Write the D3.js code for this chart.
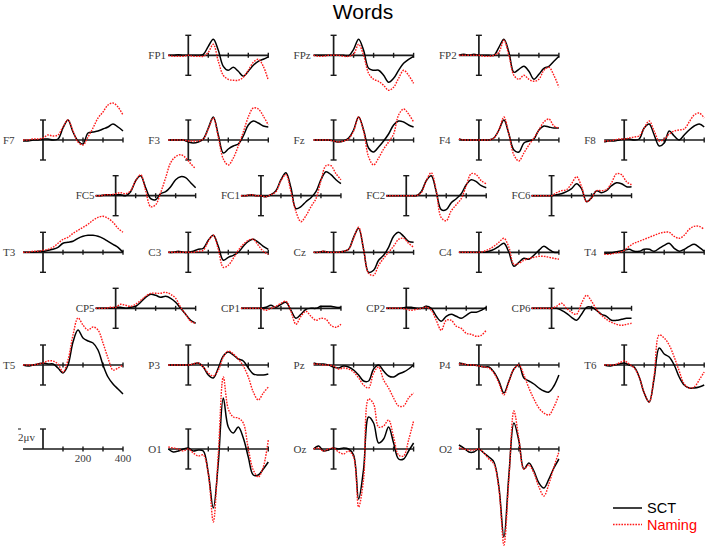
<!DOCTYPE html>
<html>
<head>
<meta charset="utf-8">
<script src="https://cdn.jsdelivr.net/npm/d3@7"></script>
<style>
  body { margin: 0; background: #fff; }
  svg { display: block; }
</style>
</head>
<body>
<svg id="chart"></svg>
<script>
// sample times (ms) shared by every trace
const times = [-100, -75, -50, -25, 0, 25, 50, 75, 100, 125, 150, 175, 200, 225, 250, 275, 300, 325, 350, 375, 400]

// amplitudes in microvolts, SCT (black) and Naming (red) per electrode
const sct_FP1 = [0, 0, 0.05, 0, 0, 0, 0, 0.1, 0.9, 1.6, 0.5, -1.1, -1.5, -1.2, -1.6, -2.1, -1.6, -1.0, -0.6, -0.4, -0.15]
const nam_FP1 = [0, -0.1, -0.1, -0.1, 0, -0.1, -0.1, -0.1, 0.3, 1.1, -0.6, -2.0, -2.4, -2.5, -2.5, -2.2, -1.5, -0.7, -0.4, -1.1, -2.5]
const sct_FPz = [0, 0, 0, 0, 0, 0, 0, -0.05, 0.6, 1.6, 0.5, -1.3, -1.5, -1.5, -2.0, -2.7, -2.3, -1.5, -0.8, -0.4, -0.1]
const nam_FPz = [0, -0.1, -0.1, 0, 0, 0, -0.1, -0.1, 0.1, 1.1, 0.0, -1.8, -2.4, -2.6, -3.0, -3.5, -3.2, -2.3, -1.5, -2.0, -2.8]
const sct_FP2 = [0, 0.1, 0, 0.1, 0, 0, 0, 0, 0.8, 1.6, 0.3, -1.7, -1.4, -1.1, -1.6, -2.4, -1.9, -1.3, -1.1, -0.6, -0.1]
const nam_FP2 = [0, 0, 0, 0, 0, -0.1, -0.1, 0, 0.3, 1.5, 0.0, -2.0, -2.4, -2.0, -2.4, -2.6, -2.4, -1.5, -1.2, -2.0, -3.2]

const sct_F7 = [-0.1, -0.1, 0, 0, 0.1, 0.1, 0, 0.1, 1.2, 2.0, 0.8, -0.1, -0.4, 0.7, 0.8, 0.9, 1.1, 1.3, 1.6, 1.3, 0.9]
const nam_F7 = [0, 0, 0.1, 0.1, 0.2, 0.5, 0.4, 0.5, 1.3, 2.0, 0.9, -0.2, -0.5, 0.3, 1.2, 2.2, 2.8, 3.5, 3.7, 3.3, 2.5]
const sct_F3 = [0, 0, 0, 0, -0.2, -0.3, -0.2, 0.1, 1.2, 2.3, 0.5, -1.3, -0.9, -0.6, -0.4, 0.4, 1.5, 1.9, 1.7, 1.4, 1.3]
const nam_F3 = [0, 0, 0, 0, -0.1, -0.1, -0.1, 0.1, 1.1, 2.2, 0.3, -1.9, -2.5, -1.8, -0.6, 0.8, 2.3, 3.2, 3.1, 2.4, 1.5]
const sct_Fz = [0, 0, 0, 0, -0.1, -0.2, -0.1, 0.2, 1.0, 2.3, 1.0, -0.8, -1.2, -0.7, -0.1, 0.6, 1.5, 1.9, 1.8, 1.5, 1.3]
const nam_Fz = [0, 0, 0, 0, -0.1, -0.2, -0.1, 0.1, 0.9, 2.3, 0.9, -1.7, -2.5, -1.8, -0.9, -0.2, 0.6, 2.5, 3.1, 2.6, 1.8]
const sct_F4 = [0.1, 0, 0, 0, 0, 0, 0, 0.2, 1.0, 2.0, 0.6, -1.0, -1.2, -0.3, -0.1, 0.1, 1.0, 1.4, 1.3, 1.2, 1.2]
const nam_F4 = [0.1, 0, 0, 0, 0, 0, 0, 0.2, 1.0, 2.3, 0.6, -1.5, -2.1, -1.3, -0.5, 0.2, 1.0, 1.8, 2.1, 1.4, 1.2]
const sct_F8 = [-0.2, -0.1, -0.1, 0, 0.1, 0.1, 0, 0.1, 1.2, 1.6, 0.5, -0.6, -0.3, 0.9, 0.4, 0, 0.5, 1.0, 1.4, 1.6, 1.3]
const nam_F8 = [-0.1, -0.1, 0, 0.1, 0.1, 0.2, 0.3, 0.4, 1.2, 1.9, 0.9, -0.1, 0.1, 0.6, 0.9, 1.0, 1.1, 1.8, 2.5, 2.7, 2.2]

const sct_FC5 = [0, 0, 0.1, 0.1, 0.1, 0.1, 0, 0.4, 1.5, 2.0, 0.8, -0.3, -0.4, 0.2, 0.4, 0.9, 1.6, 1.9, 1.8, 1.3, 0.8]
const nam_FC5 = [0, 0, 0.1, 0.1, 0.2, 0.3, 0.2, 0.5, 1.5, 2.1, 0.5, -1.1, -0.9, 0.3, 1.8, 3.3, 3.9, 4.1, 3.8, 3.2, 2.7]
const sct_FC1 = [0, 0, 0.1, 0, 0, -0.1, 0.1, 0.5, 1.6, 2.3, 0.8, -1.3, -1.1, -0.6, -0.2, 0.4, 1.6, 2.4, 2.1, 1.6, 1.2]
const nam_FC1 = [0, 0, 0.1, 0, 0, -0.1, 0.1, 0.4, 1.5, 2.1, 0.4, -1.6, -2.6, -2.0, -1.1, -0.3, 1.5, 3.0, 3.0, 2.2, 1.6]
const sct_FC2 = [0, 0, 0, 0, 0, 0, 0, 0.4, 1.5, 2.0, 0.4, -1.4, -1.4, -0.7, -0.3, 0.2, 1.1, 1.6, 1.4, 1.0, 0.8]
const nam_FC2 = [0, 0, 0, 0, 0, 0, 0, 0.3, 1.5, 2.3, 0.5, -2.2, -2.5, -1.5, -0.9, -0.3, 1.0, 2.2, 2.1, 1.5, 1.2]
const sct_FC6 = [0, 0, 0, 0, 0, 0.1, 0.2, 0.4, 0.7, 1.2, 0.7, -0.6, -0.2, 0.5, 0.3, 0.5, 1.0, 1.3, 1.2, 0.9, 0.9]
const nam_FC6 = [0, 0, 0, 0, 0, 0.3, 0.5, 0.6, 1.2, 1.9, 0.9, -0.6, -0.2, 0.5, 0.5, 0.6, 1.3, 2.2, 2.1, 1.4, 1.1]

const sct_T3 = [0, 0, 0, 0.1, 0.1, 0.2, 0.3, 0.5, 0.9, 1.0, 1.1, 1.4, 1.6, 1.7, 1.7, 1.6, 1.4, 1.1, 0.8, 0.5, 0]
const nam_T3 = [0, 0, 0.1, 0.1, 0.2, 0.3, 0.5, 0.9, 1.3, 1.5, 1.9, 2.2, 2.5, 2.8, 3.2, 3.5, 3.6, 3.4, 3.0, 2.4, 2.0]
const sct_C3 = [0, 0, 0.1, 0, 0, 0.1, 0.3, 0.4, 1.2, 1.7, 0.6, -0.8, -0.5, -0.3, 0, 0.6, 1.1, 1.3, 1.0, 0.6, 0.3]
const nam_C3 = [0, 0, 0, 0, 0, 0, 0.1, 0.2, 1.1, 1.7, 0.3, -1.5, -1.3, -0.6, 0.2, 0.8, 1.2, 1.3, 0.7, 0.1, -0.2]
const sct_Cz = [0, 0, 0.1, 0, 0, 0, 0.1, 0.3, 1.5, 2.4, 0.3, -2.0, -1.8, -0.8, -0.3, 0.5, 1.6, 2.0, 1.6, 1.1, 1.0]
const nam_Cz = [0, 0, 0.1, 0, 0, 0, 0.1, 0.3, 1.4, 2.5, 0.3, -2.1, -2.3, -1.3, -0.6, 0, 0.6, 1.3, 1.4, 0.9, 0.5]
const sct_C4 = [0, 0, 0, 0, 0, 0, 0.1, 0.3, 0.6, 0.9, 0, -1.4, -1.0, -0.6, -0.7, -0.3, 0.2, 0.6, 0.3, 0, 0]
const nam_C4 = [0, 0, 0, 0, 0, 0.1, 0.3, 0.6, 1.0, 1.4, 0.5, -1.2, -1.1, -0.8, -0.6, -0.5, -0.4, -0.4, -0.5, -0.6, -0.7]
const sct_T4 = [-0.1, -0.1, 0, 0.1, 0.2, 0.3, 0.1, 0.1, 0.3, 0.3, 0.1, 0.4, 0.7, 0.9, 0.4, 0.1, 0.3, 0.6, 0.8, 0.5, 0.1]
const nam_T4 = [-0.2, -0.2, -0.1, 0, 0.2, 0.6, 0.9, 1.1, 1.3, 1.5, 1.7, 1.9, 2.0, 2.0, 1.6, 1.4, 1.7, 2.3, 2.6, 2.6, 2.3]

const sct_CP5 = [0, 0, 0, 0, 0.1, 0.1, 0, 0.1, 0.2, 0.6, 1.1, 1.4, 1.3, 1.1, 1.2, 1.0, 0.6, 0, -0.6, -1.2, -1.5]
const nam_CP5 = [0, 0, 0, 0.1, 0.1, 0.4, 0.3, 0.2, 0.4, 0.8, 1.2, 1.5, 1.5, 1.5, 1.6, 1.4, 1.0, 0.1, -0.6, -1.3, -1.5]
const sct_CP1 = [0, 0, 0, 0, 0, 0.1, 0.3, 0.1, 0.4, 0.6, -0.2, -1.0, -0.6, -0.1, 0, 0, 0.2, 0.2, 0.2, 0.1, 0.1]
const nam_CP1 = [0, 0, 0, 0, 0, -0.2, 0, 0.2, 0.5, 0.7, -0.3, -1.6, -0.8, -0.3, -0.8, -1.2, -1.0, -1.1, -1.7, -1.9, -1.6]
const sct_CP2 = [0, 0, 0, 0, 0.1, 0.1, 0, 0, 0.2, 0, -0.8, -1.3, -0.8, -0.6, -0.8, -1.0, -0.7, -0.4, -0.4, -0.2, 0.1]
const nam_CP2 = [0, 0, 0, 0, -0.1, -0.2, -0.1, 0, 0.1, -0.2, -1.2, -2.2, -1.2, -1.2, -1.8, -2.0, -2.5, -2.6, -2.8, -2.7, -2.2]
const sct_CP6 = [0, 0, 0, 0, 0, 0, -0.2, -0.5, -0.9, -1.2, -0.6, 0.1, 0.1, -0.2, -0.6, -0.8, -1.2, -1.2, -1.1, -1.0, -1.0]
const nam_CP6 = [0, 0, 0, 0, 0, 0.2, 0.5, 0, -0.4, -0.6, 0.5, 1.3, 0.7, -0.1, -0.7, -1.1, -1.4, -1.6, -1.7, -1.6, -1.5]

const sct_T5 = [0, -0.1, 0, 0.1, 0.2, 0.1, 0.1, -0.3, -0.8, 0.0, 2.3, 3.5, 2.7, 2.4, 2.2, 1.5, 0, -1.2, -1.9, -2.4, -2.9]
const nam_T5 = [0, 0, 0, 0.1, 0.2, 0.4, 0.4, 0.1, -0.7, 0.5, 3.0, 4.7, 4.0, 3.5, 3.8, 3.5, 2.2, 0.7, -0.5, -0.3, 0]
const sct_P3 = [0, 0, 0, 0, 0, 0.1, 0.2, -0.2, -1.0, -1.3, -0.3, 0.9, 1.3, 1.0, 0.6, 0.4, -0.3, -0.9, -1.0, -1.0, -0.9]
const nam_P3 = [0, 0, 0, 0, 0, 0.1, 0.2, -0.2, -0.8, -1.1, -0.5, 0.8, 1.4, 1.1, 0.6, -0.1, -1.2, -2.7, -3.5, -2.8, -2.2]
const sct_Pz = [0.2, 0.1, 0.1, 0, -0.2, -0.3, -0.1, -0.2, -0.5, -1.0, -1.6, -1.6, -0.4, 0, -0.6, -1.1, -1.2, -0.9, -0.7, -0.4, 0]
const nam_Pz = [0.1, 0.1, 0, 0, -0.1, -0.4, -0.3, -0.4, -0.7, -1.3, -2.0, -2.3, -0.8, -0.2, -1.5, -2.3, -3.3, -4.1, -4.1, -3.3, -2.8]
const sct_P4 = [0.2, 0.1, 0, 0, -0.1, -0.2, -0.2, -0.7, -1.6, -2.8, -1.6, -0.4, 0, -1.3, -1.6, -1.9, -2.3, -2.6, -2.7, -2.1, -1.0]
const nam_P4 = [0.1, 0.1, 0, 0, -0.1, -0.2, -0.3, -0.8, -1.8, -3.0, -1.7, -0.4, 0, -1.0, -2.3, -3.4, -4.3, -4.8, -5.0, -4.2, -3.0]
const sct_T6 = [0, -0.1, 0, 0.1, 0.2, 0, -0.2, -1.2, -2.8, -3.7, -1.3, 1.7, 1.1, 0.8, 0, -1.2, -2.0, -2.3, -2.3, -2.2, -2.0]
const nam_T6 = [0, 0, 0, 0.2, 0.4, 0.1, -0.3, -1.2, -2.8, -3.7, -1.0, 3.0, 2.7, 2.0, 0.8, -0.6, -1.9, -2.3, -2.2, -1.5, -0.7]

const sct_O1 = [0, -0.3, -0.2, 0, 0.1, -0.2, -0.1, -0.2, -2.4, -5.9, -1.4, 5.1, 2.2, 1.6, 2.2, 1.1, -0.8, -2.6, -2.6, -2.0, -1.3]
const nam_O1 = [0.2, 0.1, 0, -0.2, 0, -0.4, -0.7, -0.6, -2.5, -7.3, -0.5, 7.2, 4.0, 3.2, 3.1, 2.6, 0, -2.1, -2.8, -1.8, 0.9]
const sct_Oz = [0, 0.3, -0.2, -0.1, 0.1, 0, 0.1, 0, -0.6, -5.0, -2.0, 3.2, 2.6, 0.6, 1.0, 2.2, 0.6, -1.0, -1.0, -0.2, 0.6]
const nam_Oz = [0, 0.1, -0.2, 0, 0.1, -0.3, -0.5, -0.2, -0.8, -5.8, -3.0, 5.0, 4.5, 2.2, 2.3, 2.9, 1.2, -0.6, -0.7, 0.9, 2.8]
const sct_O2 = [0.4, 0.1, -0.3, -0.3, 0, -0.4, -0.8, -1.3, -3.8, -8.8, -2.6, 2.6, 0.8, -2.0, -1.4, -2.2, -3.4, -3.9, -3.0, -1.9, -1.0]
const nam_O2 = [0.1, 0, -0.1, -0.1, 0, -0.4, -1.0, -1.5, -4.0, -9.6, -3.0, 3.8, 1.0, -2.0, -1.6, -2.4, -3.8, -4.7, -3.5, -1.8, -0.3]

// electrode montage rows (left-to-right); col is in units of panel spacing
const montage = [
  [['FP1', 1], ['FPz', 2], ['FP2', 3]],
  [['F7', 0], ['F3', 1], ['Fz', 2], ['F4', 3], ['F8', 4]],
  [['FC5', 0.5], ['FC1', 1.5], ['FC2', 2.5], ['FC6', 3.5]],
  [['T3', 0], ['C3', 1], ['Cz', 2], ['C4', 3], ['T4', 4]],
  [['CP5', 0.5], ['CP1', 1.5], ['CP2', 2.5], ['CP6', 3.5]],
  [['T5', 0], ['P3', 1], ['Pz', 2], ['P4', 3], ['T6', 4]],
  [['O1', 1], ['Oz', 2], ['O2', 3]]
]

const waves = {
  FP1: [sct_FP1, nam_FP1], FPz: [sct_FPz, nam_FPz], FP2: [sct_FP2, nam_FP2],
  F7: [sct_F7, nam_F7], F3: [sct_F3, nam_F3], Fz: [sct_Fz, nam_Fz], F4: [sct_F4, nam_F4], F8: [sct_F8, nam_F8],
  FC5: [sct_FC5, nam_FC5], FC1: [sct_FC1, nam_FC1], FC2: [sct_FC2, nam_FC2], FC6: [sct_FC6, nam_FC6],
  T3: [sct_T3, nam_T3], C3: [sct_C3, nam_C3], Cz: [sct_Cz, nam_Cz], C4: [sct_C4, nam_C4], T4: [sct_T4, nam_T4],
  CP5: [sct_CP5, nam_CP5], CP1: [sct_CP1, nam_CP1], CP2: [sct_CP2, nam_CP2], CP6: [sct_CP6, nam_CP6],
  T5: [sct_T5, nam_T5], P3: [sct_P3, nam_P3], Pz: [sct_Pz, nam_Pz], P4: [sct_P4, nam_P4], T6: [sct_T6, nam_T6],
  O1: [sct_O1, nam_O1], Oz: [sct_Oz, nam_Oz], O2: [sct_O2, nam_O2]
}

const tickTimes = [100, 200, 300, 400]
const scaleLabels = [200, 400]
const series = ['SCT', 'Naming']

// layout
const width = 709
const height = 553
const colX = d3.scaleLinear().domain([0, 4]).range([43, 624.2])
const rowY = [55.3, 140, 195.7, 252.3, 308.3, 365, 449]
const pxPerMs = 0.2      // 20 px per 100 ms
const pxPerUv = 10       // 10 px per microvolt
const AXIS = '#1a1a1a'
const RED = '#ff1a1a'
const serif = '"Liberation Serif", "Times New Roman", serif'
const sans = '"Liberation Sans", Arial, sans-serif'

const svg = d3.select('#chart')
  .attr('width', width)
  .attr('height', height)

svg.append('rect').attr('width', width).attr('height', height).attr('fill', '#fff')

svg.append('text')
  .attr('x', 363)
  .attr('y', 19)
  .attr('text-anchor', 'middle')
  .attr('font-family', sans)
  .attr('font-size', 21)
  .attr('fill', '#000')
  .text('Words')

// one small axis frame: horizontal time axis, vertical amplitude bar at t=0
const drawFrame = (g, x, y, fullBar) => {
  g.append('line')
    .attr('x1', x(-100)).attr('x2', x(400))
    .attr('y1', y(0)).attr('y2', y(0))
    .attr('stroke', AXIS).attr('stroke-width', 1.7)

  g.selectAll('.tick')
    .data(tickTimes)
    .enter().append('line')
    .attr('x1', d => x(d)).attr('x2', d => x(d))
    .attr('y1', y(0) - 2.5).attr('y2', y(0) + 2.5)
    .attr('stroke', AXIS).attr('stroke-width', 1.4)

  const lo = fullBar ? -2 : 0
  g.append('line')
    .attr('x1', x(0)).attr('x2', x(0))
    .attr('y1', y(2)).attr('y2', y(lo))
    .attr('stroke', AXIS).attr('stroke-width', 1.7)

  const caps = fullBar ? [2, -2] : [2]
  g.selectAll('.cap')
    .data(caps)
    .enter().append('line')
    .attr('x1', x(0) - 3).attr('x2', x(0) + 3)
    .attr('y1', d => y(d)).attr('y2', d => y(d))
    .attr('stroke', AXIS).attr('stroke-width', 1.4)
}

const line = (x, y) => d3.line()
  .x((d, i) => x(times[i]))
  .y(d => y(d))
  .curve(d3.curveCatmullRom.alpha(0.5))

montage.forEach((row, r) => {
  row.forEach(([name, c]) => {
    const x0 = colX(c)
    const y0 = rowY[r]
    const x = d3.scaleLinear().domain([0, 400]).range([x0, x0 + 400 * pxPerMs])
    const y = d3.scaleLinear().domain([0, 1]).range([y0, y0 - pxPerUv])

    const g = svg.append('g').attr('class', 'panel')

    g.append('text')
      .attr('x', x0 - 40)
      .attr('y', y0 + 3.6)
      .attr('font-family', serif)
      .attr('font-size', 11)
      .attr('fill', '#3a3a3a')
      .text(name)

    drawFrame(g, x, y, true)

    const [sct, nam] = waves[name]
    g.append('path')
      .datum(sct)
      .attr('d', line(x, y))
      .attr('fill', 'none')
      .attr('stroke', '#000')
      .attr('stroke-width', 1.5)

    g.append('path')
      .datum(nam)
      .attr('d', line(x, y))
      .attr('fill', 'none')
      .attr('stroke', RED)
      .attr('stroke-width', 1.4)
      .attr('stroke-dasharray', '1.6 1.2')
  })
})

// calibration frame (bottom left)
{
  const x0 = colX(0)
  const y0 = rowY[6]
  const x = d3.scaleLinear().domain([0, 400]).range([x0, x0 + 400 * pxPerMs])
  const y = d3.scaleLinear().domain([0, 1]).range([y0, y0 - pxPerUv])
  const g = svg.append('g').attr('class', 'scale')
  drawFrame(g, x, y, false)

  g.append('text')
    .attr('x', x0 - 25).attr('y', y(2) + 12)
    .attr('font-family', serif).attr('font-size', 11).attr('fill', '#3a3a3a')
    .text('2\u03bcv')
  g.append('line')
    .attr('x1', x0 - 25).attr('x2', x0 - 22)
    .attr('y1', y(2)).attr('y2', y(2))
    .attr('stroke', '#3a3a3a').attr('stroke-width', 1.2)

  g.selectAll('.lab')
    .data(scaleLabels)
    .enter().append('text')
    .attr('x', d => x(d))
    .attr('y', y0 + 13)
    .attr('text-anchor', 'middle')
    .attr('font-family', serif).attr('font-size', 11).attr('fill', '#3a3a3a')
    .text(d => d)
}

// legend
const legend = svg.append('g').attr('transform', 'translate(613,508)')
legend.selectAll('line')
  .data(series)
  .enter().append('line')
  .attr('x1', 0).attr('x2', 29)
  .attr('y1', (d, i) => i * 16.5).attr('y2', (d, i) => i * 16.5)
  .attr('stroke', (d, i) => i ? RED : '#000')
  .attr('stroke-width', 1.5)
  .attr('stroke-dasharray', (d, i) => i ? '1.6 1.2' : null)
legend.selectAll('text')
  .data(series)
  .enter().append('text')
  .attr('x', 34)
  .attr('y', (d, i) => i * 16.5 + 5)
  .attr('font-family', sans)
  .attr('font-size', 14.5)
  .attr('fill', (d, i) => i ? '#ff0000' : '#000')
  .text(d => d)
</script>
</body>
</html>
